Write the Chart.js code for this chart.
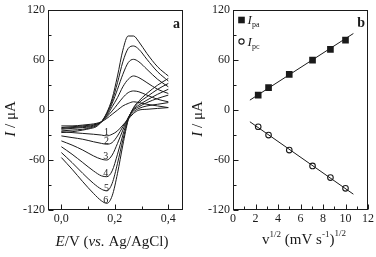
<!DOCTYPE html>
<html>
<head>
<meta charset="utf-8">
<script src="https://cdn.jsdelivr.net/npm/chart.js@4"></script>
<style>
html, body { margin: 0; padding: 0; background: #fff; }
#wrap { position: relative; width: 376px; height: 257px; }
canvas { position: absolute; top: 0; }
#cv { left: 0; }
#fit { left: 188px; }
</style>
</head>
<body>
<div id="wrap">
	<canvas id="cv" width="188" height="257"></canvas>
	<canvas id="fit" width="188" height="257"></canvas>
</div>
<script>
// panel a: cyclic voltammograms, forward (anodic) and reverse (cathodic) branches
const fwdE = [0, 0.04, 0.08, 0.11, 0.13, 0.15, 0.17, 0.19, 0.21, 0.23, 0.25, 0.27, 0.29, 0.32, 0.36, 0.40];
const revE = [0.40, 0.36, 0.32, 0.29, 0.27, 0.25, 0.23, 0.21, 0.19, 0.17, 0.15, 0.12, 0.08, 0.04, 0];

const fwd1 = [-19, -19, -18, -17, -16, -14, -10, -5, 0, 5, 8, 10, 9, 7, 5, 3];
const fwd2 = [-21, -20, -19, -18, -17, -14, -8, -1, 7, 15, 21, 23, 22, 18, 13, 10];
const fwd3 = [-22, -21, -20, -19, -17, -14, -7, 4, 15, 28, 37, 41, 39, 33, 25, 20];
const fwd4 = [-23, -22, -21, -20, -18, -14, -5, 8, 25, 43, 57, 61, 58, 49, 37, 28];
const fwd5 = [-25, -24, -23, -21, -19, -14, -4, 11, 33, 58, 74, 77, 73, 61, 46, 35];
const fwd6 = [-27, -26, -24, -22, -20, -14, -3, 14, 41, 72, 89, 89, 82, 68, 52, 41];

const rev1 = [3, 2, 1, 0, -4, -11, -18, -25, -29, -31, -30, -29, -28, -27, -26];
const rev2 = [9, 7, 5, 2, -2, -10, -20, -31, -39, -41, -40, -38, -35, -33, -31];
const rev3 = [18, 14, 9, 4, 0, -9, -24, -40, -54, -60, -59, -55, -48, -42, -37];
const rev4 = [25, 19, 12, 6, 1, -10, -30, -53, -73, -80, -79, -73, -63, -53, -44];
const rev5 = [32, 25, 16, 9, 2, -11, -36, -64, -88, -97, -95, -88, -76, -63, -51];
const rev6 = [38, 30, 20, 11, 3, -12, -42, -76, -103, -112, -109, -100, -86, -71, -57];

const curveNames = ['1', '2', '3', '4', '5', '6'];
const nameE = [0.169, 0.169, 0.166, 0.166, 0.169, 0.166];
const nameI = [-27, -37, -56, -76, -94, -108];

// panel b: peak currents against square root of scan rate
const sqrtRate = [2.24, 3.16, 5.0, 7.07, 8.66, 10.0];
const ipa = [18, 27, 43, 60, 73, 84];
const ipc = [-20, -30, -48, -67, -81, -94];
const fitX = [1.5, 10.7];
const fitPa = [12, 92];
const fitPc = [-14, -101];

// ticks
const iTicks = [-120, -60, 0, 60, 120];
const iMinor = [-90, -30, 30, 90];
const eTicks = [0, 0.2, 0.4];
const eMinor = [0.1, 0.3];
const rootTicks = [0, 2, 4, 6, 8, 10, 12];
const rootMinor = [1, 3, 5, 7, 9, 11];

const INK = '#1a1a1a';
const SERIF = "'Liberation Serif', 'DejaVu Serif', serif";
Chart.defaults.font.family = SERIF;
Chart.defaults.color = INK;

const pairs = (xs, ys) => xs.map((x, i) => ({x: x, y: ys[i]}));

function branch(xs, ys) {
	return {
		data: pairs(xs, ys),
		borderColor: INK,
		borderWidth: 1,
		pointRadius: 0,
		fill: false,
		cubicInterpolationMode: 'monotone'
	};
}

// draw a line of text made of runs with their own fonts, centred on cx
function drawRuns(ctx, runs, cx, cy) {
	let w = 0;
	runs.forEach(r => { ctx.font = r.font; w += ctx.measureText(r.t).width; });
	let x = cx - w / 2;
	ctx.textAlign = 'left';
	ctx.textBaseline = 'alphabetic';
	runs.forEach(r => {
		ctx.font = r.font;
		ctx.fillText(r.t, x, cy + (r.dy || 0));
		x += ctx.measureText(r.t).width;
	});
}

function drawFrame(chart, majorX, minorX) {
	const {ctx, chartArea: a, scales: {x, y}} = chart;
	ctx.save();
	ctx.strokeStyle = INK;
	ctx.lineWidth = 1;
	const l = Math.round(a.left) + 0.5, t = Math.round(a.top) + 0.5;
	const r = Math.round(a.right) - 0.5, b = Math.round(a.bottom) - 0.5;
	ctx.strokeRect(l, t, r - l, b - t);
	ctx.beginPath();
	iTicks.forEach(v => { const p = Math.round(y.getPixelForValue(v)) + 0.5; ctx.moveTo(l, p); ctx.lineTo(l + 5, p); });
	iMinor.forEach(v => { const p = Math.round(y.getPixelForValue(v)) + 0.5; ctx.moveTo(l, p); ctx.lineTo(l + 3, p); });
	majorX.forEach(v => { const p = Math.round(x.getPixelForValue(v)) + 0.5; ctx.moveTo(p, b); ctx.lineTo(p, b - 5); });
	minorX.forEach(v => { const p = Math.round(x.getPixelForValue(v)) + 0.5; ctx.moveTo(p, b); ctx.lineTo(p, b - 3); });
	ctx.stroke();
	ctx.restore();
}

function drawYTitle(ctx, cx, cy) {
	ctx.save();
	ctx.translate(cx, cy);
	ctx.rotate(-Math.PI / 2);
	ctx.fillStyle = INK;
	drawRuns(ctx, [
		{t: 'I', font: 'italic 15px ' + SERIF},
		{t: ' / μA', font: '15px ' + SERIF}
	], 0, 5);
	ctx.restore();
}

function yScale(width) {
	return {
		type: 'linear',
		min: -120,
		max: 120,
		afterFit: s => { s.width = width; },
		afterBuildTicks: s => { s.ticks = iTicks.map(v => ({value: v})); },
		grid: {display: false, drawTicks: false},
		border: {display: false},
		ticks: {padding: 3, font: {size: 12}, color: INK}
	};
}

const cvDatasets = [];
[[fwd1, rev1], [fwd2, rev2], [fwd3, rev3], [fwd4, rev4], [fwd5, rev5], [fwd6, rev6]].forEach(c => {
	cvDatasets.push(branch(fwdE, c[0]));
	cvDatasets.push(branch(revE, c[1]));
});

const decorA = {
	id: 'decorA',
	afterDraw(chart) {
		const {ctx, scales: {x, y}} = chart;
		drawFrame(chart, eTicks, eMinor);
		ctx.save();
		ctx.fillStyle = INK;
		ctx.font = '10px ' + SERIF;
		ctx.textAlign = 'center';
		ctx.textBaseline = 'middle';
		curveNames.forEach((n, i) => ctx.fillText(n, x.getPixelForValue(nameE[i]), y.getPixelForValue(nameI[i])));
		ctx.font = 'bold 14px ' + SERIF;
		ctx.textAlign = 'right';
		ctx.textBaseline = 'alphabetic';
		ctx.fillText('a', chart.chartArea.right - 3, chart.chartArea.top + 18);
		drawRuns(ctx, [
			{t: 'E', font: 'italic 15px ' + SERIF},
			{t: '/V (', font: '15px ' + SERIF},
			{t: 'vs.', font: 'italic 15px ' + SERIF},
			{t: ' Ag/AgCl)', font: '15px ' + SERIF}
		], 112, 246);
		ctx.restore();
		drawYTitle(ctx, 10, 119);
	}
};

new Chart(document.getElementById('cv'), {
	type: 'line',
	data: {datasets: cvDatasets},
	options: {
		responsive: false,
		animation: false,
		layout: {padding: {top: 10, right: 5, left: 0, bottom: 0}},
		plugins: {legend: {display: false}, tooltip: {enabled: false}},
		scales: {
			x: {
				type: 'linear',
				min: -0.05,
				max: 0.455,
				afterFit: s => { s.height = 47; },
				afterBuildTicks: s => { s.ticks = eTicks.map(v => ({value: v})); },
				grid: {display: false, drawTicks: false},
				border: {display: false},
				ticks: {padding: 2, font: {size: 12}, color: INK, callback: v => v.toFixed(1).replace('.', ',')}
			},
			y: yScale(48)
		}
	},
	plugins: [decorA]
});

const decorB = {
	id: 'decorB',
	afterDraw(chart) {
		const ctx = chart.ctx;
		const a = chart.chartArea;
		drawFrame(chart, rootTicks, rootMinor);
		ctx.save();
		ctx.fillStyle = INK;
		ctx.strokeStyle = INK;
		// legend
		const mx = a.left + 8.5;
		ctx.fillRect(mx - 3.3, 20 - 3.3, 6.6, 6.6);
		ctx.lineWidth = 1.1;
		ctx.beginPath();
		ctx.arc(mx, 41.5, 2.6, 0, Math.PI * 2);
		ctx.stroke();
		[['pa', 24], ['pc', 45.5]].forEach(l => {
			ctx.font = 'italic 13px ' + SERIF;
			ctx.textAlign = 'left';
			ctx.textBaseline = 'alphabetic';
			ctx.fillText('I', mx + 6, l[1]);
			ctx.font = '8px ' + SERIF;
			ctx.fillText(l[0], mx + 10.5, l[1] + 3);
		});
		ctx.font = 'bold 14px ' + SERIF;
		ctx.textAlign = 'right';
		ctx.fillText('b', a.right - 3, a.top + 17);
		const big = '15px ' + SERIF, sup = '9px ' + SERIF;
		drawRuns(ctx, [
			{t: 'v', font: big},
			{t: '1/2', font: sup, dy: -7},
			{t: ' (mV s', font: big},
			{t: '-1', font: sup, dy: -7},
			{t: ')', font: big},
			{t: '1/2', font: sup, dy: -8}
		], 116, 244);
		ctx.restore();
		drawYTitle(ctx, 9, 119);
	}
};

new Chart(document.getElementById('fit'), {
	type: 'scatter',
	data: {
		datasets: [
			{type: 'line', data: pairs(fitX, fitPa), borderColor: INK, borderWidth: 1, pointRadius: 0},
			{type: 'line', data: pairs(fitX, fitPc), borderColor: INK, borderWidth: 1, pointRadius: 0},
			{label: 'Ipa', data: pairs(sqrtRate, ipa), pointStyle: 'rect', pointRadius: 4.7, backgroundColor: INK, borderColor: INK, borderWidth: 0},
			{label: 'Ipc', data: pairs(sqrtRate, ipc), pointStyle: 'circle', pointRadius: 2.8, backgroundColor: 'rgba(0,0,0,0)', borderColor: INK, borderWidth: 1.1}
		]
	},
	options: {
		responsive: false,
		animation: false,
		layout: {padding: {top: 10, right: 8, left: 0, bottom: 0}},
		plugins: {legend: {display: false}, tooltip: {enabled: false}},
		scales: {
			x: {
				type: 'linear',
				min: 0,
				max: 12,
				afterFit: s => { s.height = 47; },
				afterBuildTicks: s => { s.ticks = rootTicks.map(v => ({value: v})); },
				grid: {display: false, drawTicks: false},
				border: {display: false},
				ticks: {padding: 2, font: {size: 12}, color: INK}
			},
			y: yScale(45)
		}
	},
	plugins: [decorB]
});
</script>
</body>
</html>
